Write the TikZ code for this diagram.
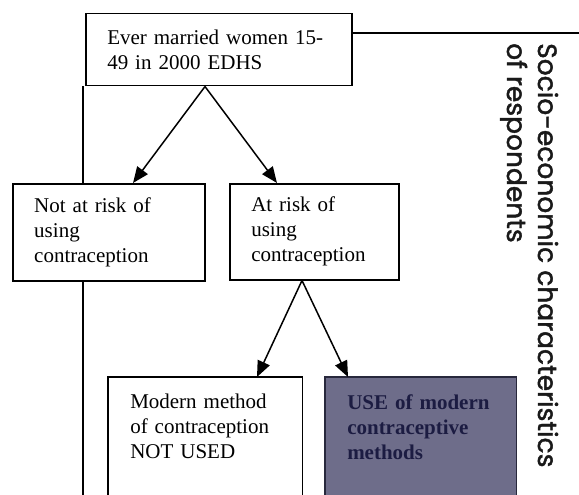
\documentclass[tikz,border=0pt]{standalone}
\usepackage{fontspec}
\setmainfont{Liberation Serif}
\newfontfamily\gothicfont{Poppins}[BoldFont={Poppins}, BoldFeatures={FakeBold=1.6}]
\usetikzlibrary{arrows.meta,backgrounds}
\definecolor{usefill}{RGB}{110,109,138}
\definecolor{usetext}{RGB}{28,28,66}
\definecolor{useedge}{RGB}{40,40,60}
\begin{document}
\begin{tikzpicture}[x=1pt,y=-1pt,
  boxtext/.style={font=\fontsize{21}{25}\selectfont, align=left, inner sep=0pt,
                  anchor=north west, line width=1.5pt},
  framed/.style={boxtext, draw},
  flow/.style={line width=1.5pt, -{Triangle[length=16pt,width=13pt]}},
  rule/.style={line width=1.5pt},
  sidelabel/.style={font=\gothicfont\bfseries\fontsize{26.5}{30}\selectfont, text=black!90,
                    rotate=-90, anchor=base west, inner sep=0pt}
]
\useasboundingbox (0,0) rectangle (579,495);
\clip (0,0) rectangle (579,495);

% boxes of the flow chart
\node[framed, minimum width=266, minimum height=72, text width=223] (top) at (85,13)
  {Ever married women 15-\\49 in 2000 EDHS};
\node[framed, minimum width=192, minimum height=97, text width=149] (norisk) at (12,183)
  {Not at risk of\\using\\contraception};
\node[framed, minimum width=169, minimum height=96, text width=126] (risk) at (229,183)
  {At risk of\\using\\contraception};
\node[boxtext, minimum width=193, minimum height=98, text width=150] (modern) at (108,377)
  {Modern method\\of contraception\\NOT USED};
\node[boxtext, minimum width=190, minimum height=98, text width=147, text=usetext,
      font=\fontsize{21}{25}\selectfont\bfseries] (use) at (325,377)
  {USE of modern\\contraceptive\\methods};

% the two lower boxes run on past the bottom edge
\draw[rule] (modern.west |- 0,510) -- (modern.north west) -- (modern.north east)
            -- (modern.east |- 0,510);
\begin{scope}[on background layer]
  \filldraw[fill=usefill, draw=useedge, line width=1.5pt]
    (use.north west) rectangle (use.east |- 0,510);
\end{scope}

% branching arrows
\draw[flow] ([xshift=120pt]top.south west) -- ([xshift=121pt]norisk.north west);
\draw[flow] ([xshift=120pt]top.south west) -- ([xshift=48pt]risk.north west);
\draw[flow] ([xshift=73pt]risk.south west) -- ([xshift=149pt]modern.north west);
\draw[flow] ([xshift=73pt]risk.south west) -- ([xshift=23pt]use.north west);

% connecting rules
\coordinate (vx) at (83,0);
\coordinate (hy) at (0,33);
\coordinate (redge) at (590,33);
\coordinate (bedge) at (83,510);
\draw[rule] (top.south -| vx) -- (norisk.north -| vx);
\draw[rule] (norisk.south -| vx) -- (bedge);
\draw[rule] (top.east |- hy) -- (redge);

% side heading
\node[sidelabel] (lab1) at (538,43) {Socio-economic characteristics};
\node[sidelabel] (lab2) at (507,43) {of respondents};
\end{tikzpicture}
\end{document}
